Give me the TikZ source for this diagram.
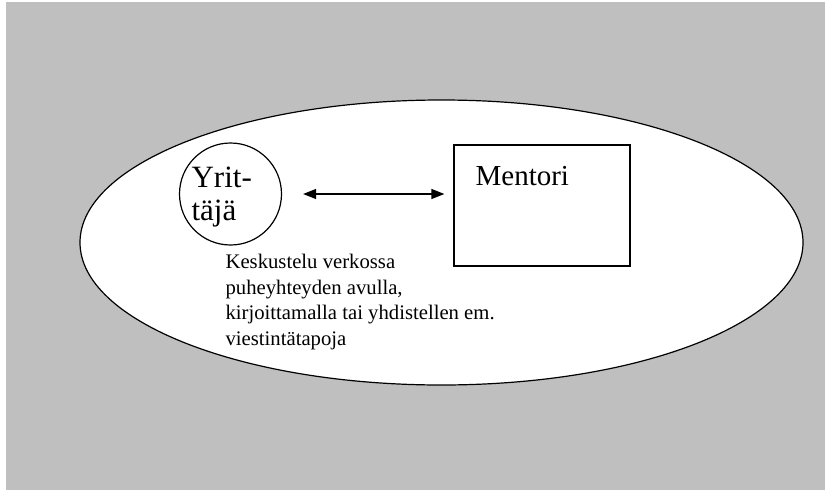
\documentclass[tikz,border=0pt]{standalone}
\usepackage{fontspec}
\setmainfont{Liberation Serif}
\usetikzlibrary{arrows.meta}

\begin{document}
\begin{tikzpicture}[x=1pt,y=-1pt,line width=1.2pt]
\useasboundingbox (0,0) rectangle (825,490);
\fill [white] (0,0) rectangle (825,490);
\fill [black!25] (6,2) rectangle (825,490);

\draw [fill=white] (441.5,242.5) ellipse [x radius=361.5, y radius=142.5];

\node (yrittaja) [draw, circle, fill=white, minimum size=102pt, inner sep=0pt] at (230.5,194) {};
\node (yrittajatext) [anchor=base west, inner sep=0pt, align=left, font=\fontsize{31}{33}\selectfont]
  at (191,220) {Yrit-\\täjä};
\node (mentori) [draw, fill=white, minimum width=176pt, minimum height=121pt] at (542,205.5) {};
\node (mentoritext) [anchor=base west, inner sep=0pt, font=\fontsize{29}{33}\selectfont] at (475,185) {Mentori};

\draw [{Triangle[length=13pt,width=10pt]}-{Triangle[length=13pt,width=10pt]}, shorten <=21pt, shorten >=9pt]
  (yrittaja.east) -- (yrittaja.east -| mentori.west);

\node (keskustelu) [anchor=base west, inner sep=0pt, align=left, font=\fontsize{20.7}{25.5}\selectfont] at (225,345)
  {Keskustelu verkossa\\puheyhteyden avulla,\\kirjoittamalla tai yhdistellen em.\\viestintätapoja};
\end{tikzpicture}
\end{document}
